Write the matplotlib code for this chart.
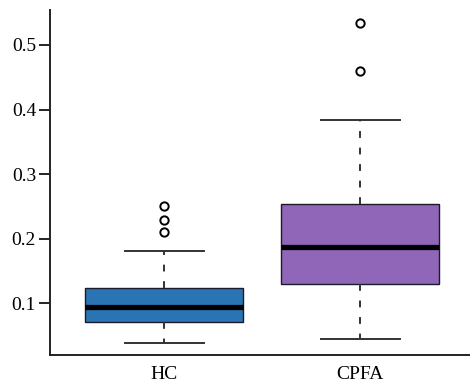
import matplotlib
matplotlib.use("Agg")
import matplotlib.pyplot as plt

# Summary statistics per group
groups = ["HC", "CPFA"]
whisker_low = [0.0385, 0.0446]
quartile1 = [0.0715, 0.1304]
medians = [0.0943, 0.1878]
quartile3 = [0.1242, 0.2535]
whisker_high = [0.1816, 0.3837]
outliers = [[0.2104, 0.2297, 0.2513], [0.459, 0.5346]]
box_colors = ["#2b74b4", "#8f66b8"]

plt.rcParams["font.family"] = ["Liberation Serif", "DejaVu Serif"]

stats = []
for i, name in enumerate(groups):
    stats.append({
        "label": name,
        "whislo": whisker_low[i],
        "q1": quartile1[i],
        "med": medians[i],
        "q3": quartile3[i],
        "whishi": whisker_high[i],
        "fliers": outliers[i],
    })

fig = plt.figure(figsize=(4.7, 3.87), dpi=100)
ax = fig.add_axes([0.1064, 0.0827, 0.8936, 0.8913])

bp = ax.bxp(
    stats,
    positions=[1, 2],
    widths=0.806,
    patch_artist=True,
    capwidths=0.403,
    boxprops=dict(edgecolor="#1a1a2a", linewidth=1.0),
    medianprops=dict(color="black", linewidth=3.8, solid_capstyle="butt"),
    whiskerprops=dict(color="#333333", linewidth=1.4, linestyle=(0, (3.5, 5))),
    capprops=dict(color="#333333", linewidth=1.4),
    flierprops=dict(marker="o", markersize=6, markerfacecolor="white",
                    markeredgecolor="black", markeredgewidth=1.4),
)
for patch, c in zip(bp["boxes"], box_colors):
    patch.set_facecolor(c)

ax.set_xlim(0.418, 2.56)
ax.set_ylim(0.020, 0.554)
ax.set_yticks([0.1, 0.2, 0.3, 0.4, 0.5])
ax.set_yticklabels(["0.1", "0.2", "0.3", "0.4", "0.5"])
ax.tick_params(axis="y", labelsize=14, length=8, width=1.2, pad=2)
ax.tick_params(axis="x", labelsize=14, length=0, pad=8)

for side in ["top", "right"]:
    ax.spines[side].set_visible(False)
for side in ["left", "bottom"]:
    ax.spines[side].set_linewidth(1.4)
    ax.spines[side].set_color("#222222")

fig.savefig("out.png", dpi=100)
